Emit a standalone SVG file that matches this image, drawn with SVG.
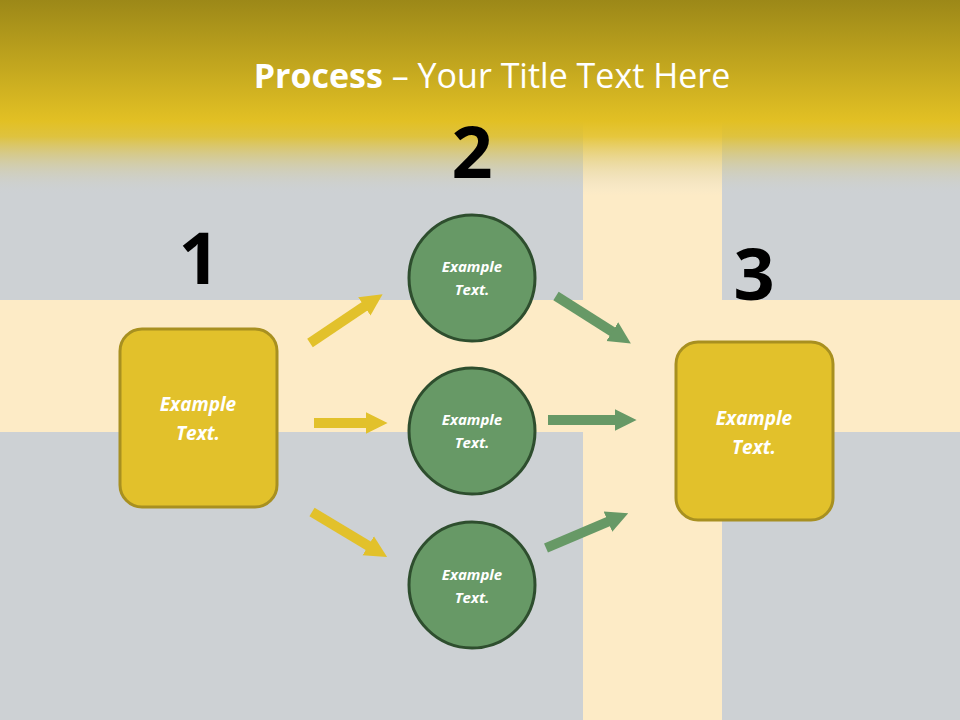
<svg xmlns="http://www.w3.org/2000/svg" width="960" height="720" viewBox="0 0 960 720">
<defs>
<linearGradient id="hdr" x1="0" y1="0" x2="0" y2="1">
<stop offset="0" stop-color="#9C8818"/>
<stop offset="0.62" stop-color="#E2C024"/>
<stop offset="0.7" stop-color="#E2C024" stop-opacity="0.85"/>
<stop offset="1" stop-color="#CDD1D4" stop-opacity="0"/>
</linearGradient>
<marker id="hy" viewBox="0 0 10 10" refX="2" refY="5" markerWidth="22" markerHeight="36" markerUnits="userSpaceOnUse" orient="auto"><path d="M0,0 L10,5 L0,10 Z" fill="#E2C12B"/></marker>
<marker id="hg" viewBox="0 0 10 10" refX="2" refY="5" markerWidth="22" markerHeight="36" markerUnits="userSpaceOnUse" orient="auto"><path d="M0,0 L10,5 L0,10 Z" fill="#679966"/></marker>
<style>
.box{fill:#E2C12B;stroke:#A89020;stroke-width:3}
.cir{fill:#679966;stroke:#2E4E2E;stroke-width:3}
.t{font-family:"Open Sans","Liberation Sans",sans-serif;font-style:italic;font-weight:bold;fill:#fff;text-anchor:middle}
.num{font-family:"Open Sans","Liberation Sans",sans-serif;font-weight:bold;font-size:72px;fill:#000;text-anchor:middle}
.ay{stroke:#E2C12B;stroke-width:10;fill:none;marker-end:url(#hy)}
.ag{stroke:#679966;stroke-width:10;fill:none;marker-end:url(#hg)}
</style>
</defs>
<rect width="960" height="720" fill="#CDD1D4"/>
<rect x="0" y="300" width="960" height="132" fill="#FDEBC6"/>
<rect x="583" y="120" width="139" height="600" fill="#FDEBC6"/>
<rect x="0" y="0" width="960" height="195" fill="url(#hdr)"/>
<text x="492" y="88" font-family="Open Sans,Liberation Sans,sans-serif" font-size="34" fill="#fff" text-anchor="middle"><tspan font-weight="bold">Process</tspan> – Your Title Text Here</text>
<text class="num" x="199" y="284">1</text>
<text class="num" x="472" y="178">2</text>
<text class="num" x="754" y="300">3</text>
<g id="connectors">
<line class="ay" x1="310" y1="343" x2="368" y2="304"/>
<line class="ay" x1="314" y1="423" x2="370" y2="423"/>
<line class="ay" x1="312" y1="512" x2="372" y2="548"/>
<line class="ag" x1="556" y1="296" x2="616" y2="334"/>
<line class="ag" x1="548" y1="420" x2="619" y2="420"/>
<line class="ag" x1="546" y1="548" x2="612" y2="520"/>
</g>
<g id="node1"><rect class="box" x="120" y="329" width="157" height="178" rx="22"/><text class="t" font-size="19" x="198" y="411">Example</text><text class="t" font-size="19" x="198" y="440">Text.</text></g>
<g id="node3"><rect class="box" x="676" y="342" width="157" height="178" rx="22"/><text class="t" font-size="19" x="754" y="425">Example</text><text class="t" font-size="19" x="754" y="454">Text.</text></g>
<g id="c1"><circle class="cir" cx="472" cy="278" r="63"/><text class="t" font-size="15" x="472" y="272">Example</text><text class="t" font-size="15" x="472" y="295">Text.</text></g>
<g id="c2"><circle class="cir" cx="472" cy="431" r="63"/><text class="t" font-size="15" x="472" y="425">Example</text><text class="t" font-size="15" x="472" y="448">Text.</text></g>
<g id="c3"><circle class="cir" cx="472" cy="585" r="63"/><text class="t" font-size="15" x="472" y="580">Example</text><text class="t" font-size="15" x="472" y="603">Text.</text></g>
</svg>
